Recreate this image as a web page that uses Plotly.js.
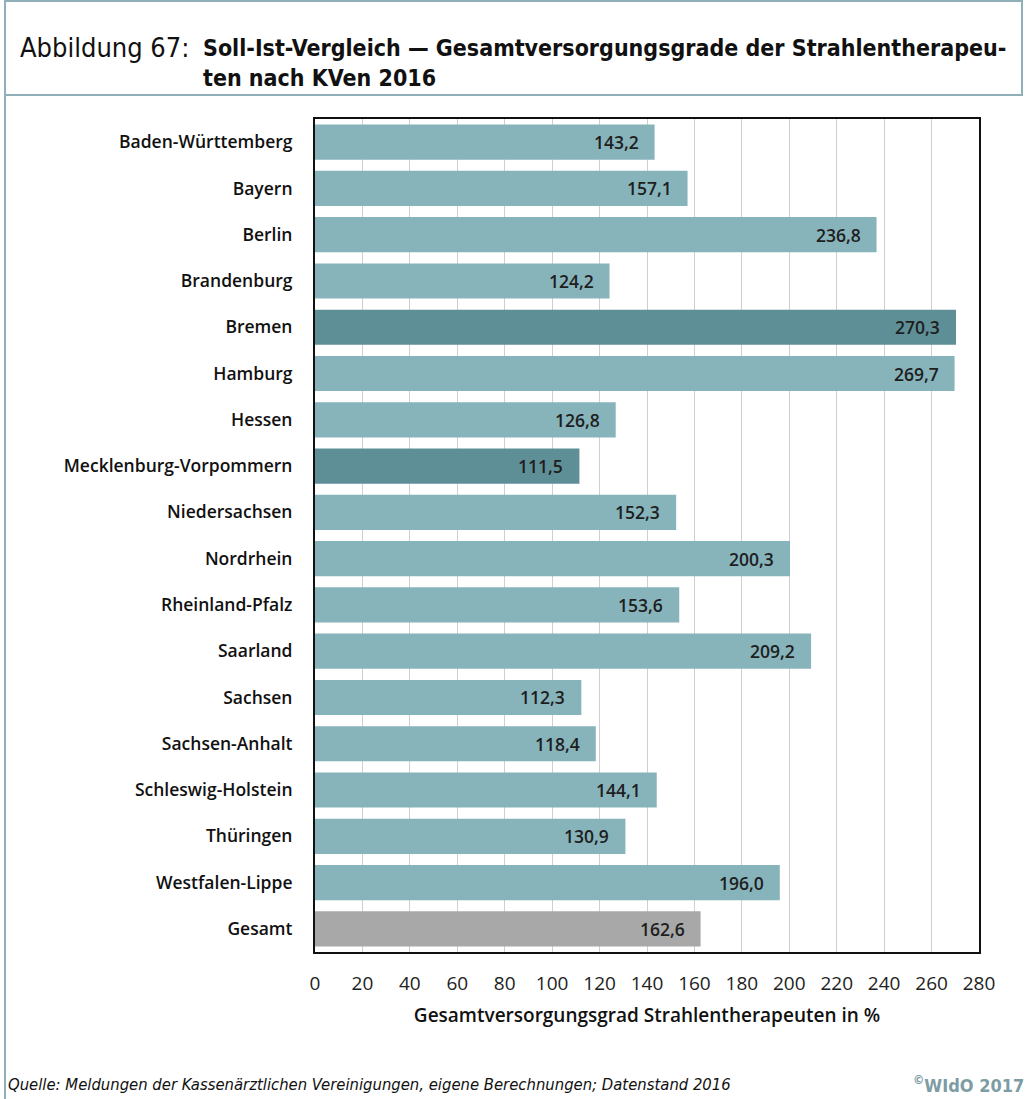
<!DOCTYPE html>
<html>
<head>
<meta charset="utf-8">
<script src="https://cdn.plot.ly/plotly-3.0.1.min.js"></script>
<style>html,body{margin:0;padding:0;background:#fff;}#chart{width:1026px;height:1099px;}</style>
</head>
<body>
<div id="chart"></div>
<script>
const categories = ["Baden-Württemberg","Bayern","Berlin","Brandenburg","Bremen","Hamburg","Hessen","Mecklenburg-Vorpommern","Niedersachsen","Nordrhein","Rheinland-Pfalz","Saarland","Sachsen","Sachsen-Anhalt","Schleswig-Holstein","Thüringen","Westfalen-Lippe","Gesamt"];
const values = [143.2,157.1,236.8,124.2,270.3,269.7,126.8,111.5,152.3,200.3,153.6,209.2,112.3,118.4,144.1,130.9,196.0,162.6];
const groups = ["kv","kv","kv","kv","high","kv","kv","low","kv","kv","kv","kv","kv","kv","kv","kv","kv","total"];
const xTicks = [0,20,40,60,80,100,120,140,160,180,200,220,240,260,280];

const titleLabel = "Abbildung 67:";
const titleText = "Soll-Ist-Vergleich — Gesamtversorgungsgrade der Strahlentherapeu-<br>ten nach KVen 2016";
const xTitle = "Gesamtversorgungsgrad Strahlentherapeuten in %";
const sourceText = "Quelle: Meldungen der Kassenärztlichen Vereinigungen, eigene Berechnungen; Datenstand 2016";
const copyrightText = "<sup>©</sup>WIdO 2017";

const colorMap = {kv:"#87b3bb", high:"#5f8f96", low:"#5f8f96", total:"#a8a8a8"};

const W = 1026, H = 1099;
const L = 315, R = 979, T = 119, B = 952;
const px = x => (x - L) / (R - L);
const py = y => (B - y) / (B - T);

const fmt = v => v.toFixed(1).replace('.', ',');
const narrow = "DejaVu Sans Condensed, sans-serif";
const labelFont = "Open Sans, Noto Sans, sans-serif";

const trace = {
  type: 'bar',
  orientation: 'h',
  y: categories,
  x: values,
  marker: {color: groups.map(g => colorMap[g]), line: {width: 0}},
  hoverinfo: 'skip'
};

const frameColor = "#8fb0b8";

const annotations = categories.map((c, i) => ({
  x: values[i], y: c, xref: 'x', yref: 'y',
  text: fmt(values[i]), showarrow: false,
  xanchor: 'right', xshift: -14,
  font: {family: labelFont, size: 17.5, color: "#1e1e1e", weight: 600}
}));

annotations.push(
  {xref:'paper', yref:'paper', x: px(18), y: py(47), xanchor:'left', yanchor:'middle', showarrow:false,
   text: titleLabel, font:{family:narrow, size:27, color:"#111"}},
  {xref:'paper', yref:'paper', x: px(201), y: py(63), xanchor:'left', yanchor:'middle', align:'left', showarrow:false,
   text: titleText, font:{family:narrow, size:23, color:"#111", weight:700}},
  {xref:'paper', yref:'paper', x: px(6), y: py(1084), xanchor:'left', yanchor:'middle', showarrow:false,
   text: "<i>"+sourceText+"</i>", font:{family:narrow, size:16.5, color:"#111"}},
  {xref:'paper', yref:'paper', x: px(1026), y: py(1084), xanchor:'right', yanchor:'middle', showarrow:false,
   text: "<b>"+copyrightText+"</b>", font:{family:narrow, size:18, color:"#7d9ca4"}}
);

const shapes = [
  {type:'rect', xref:'paper', yref:'paper', x0:px(5), x1:px(1022), y0:py(95), y1:py(1), line:{color:frameColor, width:2}, fillcolor:'rgba(0,0,0,0)'},
  {type:'line', xref:'paper', yref:'paper', x0:px(5), x1:px(5), y0:py(95), y1:py(1099), line:{color:frameColor, width:2}}
];

const layout = {
  width: W, height: H,
  margin: {l: L, r: W - R, t: T, b: H - B, pad: 0},
  paper_bgcolor: '#fff', plot_bgcolor: '#fff',
  showlegend: false,
  bargap: 0.24,
  xaxis: {
    range: [0, 280], tickvals: xTicks, ticktext: xTicks.map(String),
    showgrid: true, gridcolor: '#cfcfcf', gridwidth: 1,
    showline: true, mirror: true, linecolor: '#111', linewidth: 2,
    zeroline: false, ticks: '', ticklabelstandoff: 13,
    tickfont: {family: "Open Sans, sans-serif", size: 19, color: "#222"},
    title: {text: xTitle, standoff: 14, font: {family: labelFont, size: 19, color: "#111", weight: 600}},
    fixedrange: true
  },
  yaxis: {
    autorange: 'reversed', type: 'category',
    showgrid: false, showline: true, mirror: true, linecolor: '#111', linewidth: 2,
    ticks: '', ticklabelstandoff: 17,
    tickfont: {family: labelFont, size: 17.5, color: "#111", weight: 600},
    fixedrange: true
  },
  annotations: annotations,
  shapes: shapes
};

Plotly.newPlot('chart', [trace], layout, {displayModeBar: false, staticPlot: true});
</script>
</body>
</html>
